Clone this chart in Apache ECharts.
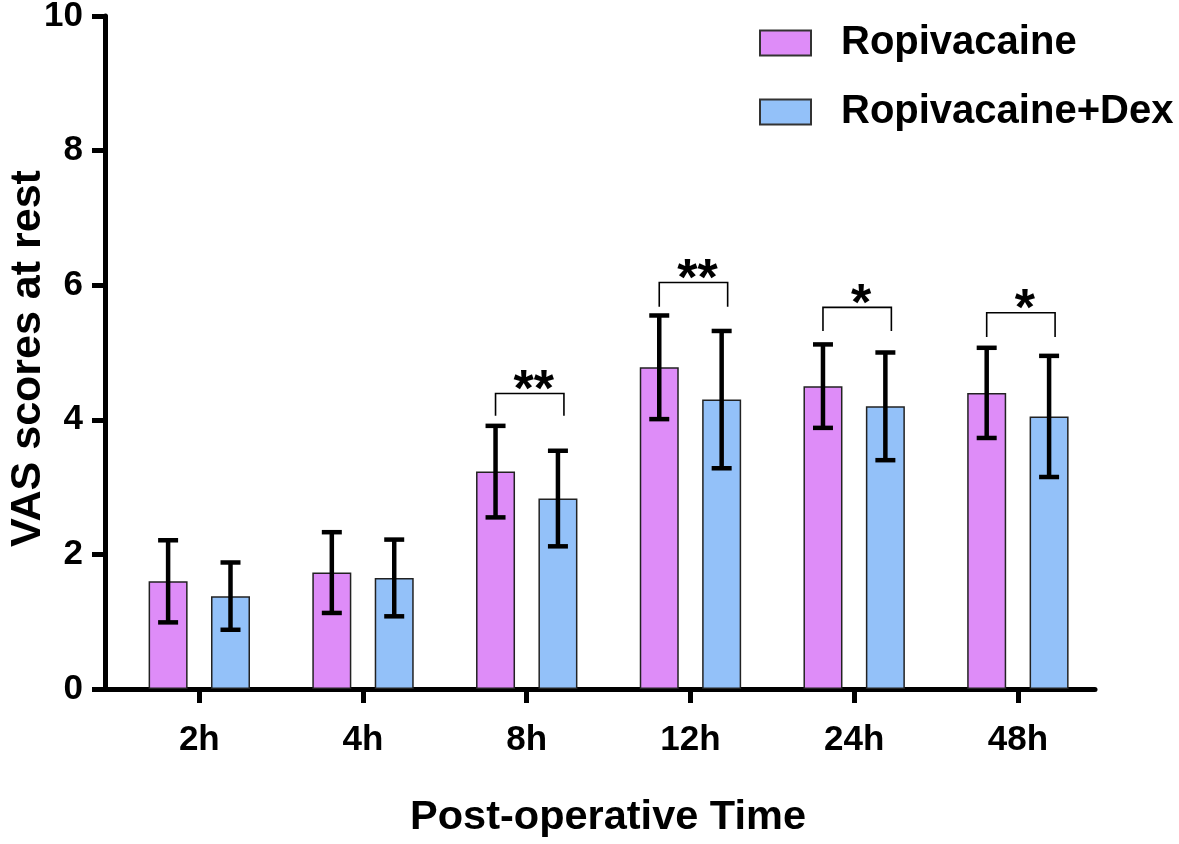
<!DOCTYPE html>
<html>
<head>
<meta charset="utf-8">
<script src="https://cdn.jsdelivr.net/npm/echarts@6/dist/echarts.min.js"></script>
<style>
html,body{margin:0;padding:0;background:#fff;}
#chart{width:1179px;height:844px;}
</style>
</head>
<body>
<div id="chart"></div>
<script>
// ---- data ----
const categories = ['2h', '4h', '8h', '12h', '24h', '48h'];
const seriesNames = ['Ropivacaine', 'Ropivacaine+Dex'];
const ropiMean = [1.60, 1.73, 3.23, 4.78, 4.50, 4.40];
const ropiSD   = [0.61, 0.60, 0.68, 0.77, 0.62, 0.67];
const dexMean  = [1.38, 1.65, 2.83, 4.30, 4.20, 4.05];
const dexSD    = [0.50, 0.57, 0.71, 1.02, 0.80, 0.90];
const sigIndex = [2, 3, 4, 5];
const sigLabels = ['**', '**', '*', '*'];
const sigTop = [4.39, 6.04, 5.67, 5.59];
const sigLeg = [4.06, 5.68, 5.32, 5.23];

// ---- style ----
const FONT = 'Liberation Sans, Arial, sans-serif';
const colors = ['#DE8CF8', '#93C1F9'];
const BAR_W = 39;
const GAP_RATIO = 0.6;
const HALF = (BAR_W + BAR_W * GAP_RATIO) / 2;

const chart = echarts.init(document.getElementById('chart'), null, {renderer: 'canvas'});

function errData(means, sds, s) {
  return means.map((m, i) => [i, m, sds[i], s]);
}

const errSeries = {
  type: 'custom',
  name: 'err',
  z: 5,
  silent: true,
  encode: {x: 0, y: 1},
  renderItem: function (params, api) {
    const i = api.value(0), m = api.value(1), sd = api.value(2), s = api.value(3);
    const dx = s === 0 ? -HALF : HALF;
    const top = api.coord([i, m + sd]);
    const bot = api.coord([i, m - sd]);
    const x = top[0] + dx;
    const cap = 10;
    const st = {stroke: '#000', lineWidth: 4.5};
    return {
      type: 'group',
      children: [
        {type: 'line', shape: {x1: x, y1: top[1], x2: x, y2: bot[1]}, style: st},
        {type: 'line', shape: {x1: x - cap, y1: top[1], x2: x + cap, y2: top[1]}, style: st},
        {type: 'line', shape: {x1: x - cap, y1: bot[1], x2: x + cap, y2: bot[1]}, style: st}
      ]
    };
  }
};

const option = {
  animation: false,
  backgroundColor: '#fff',
  textStyle: {fontFamily: FONT},
  grid: {left: 105, right: 84, top: 16, bottom: 155, containLabel: false, outerBoundsMode: 'none'},
  legend: {
    left: 754, top: 18, orient: 'vertical',
    itemWidth: 51, itemHeight: 25, itemGap: 29,
    icon: 'rect',
    data: seriesNames,
    textStyle: {fontFamily: FONT, fontWeight: 'bold', fontSize: 40, color: '#000', lineHeight: 40, padding: [0, 0, 0, 25]},
    itemStyle: {borderColor: '#333', borderWidth: 2}
  },
  xAxis: {
    type: 'value',
    min: -0.576, max: 5.471,
    name: 'Post-operative Time',
    nameLocation: 'middle',
    nameGap: 108,
    nameMoveOverlap: false,
    nameTextStyle: {fontFamily: FONT, fontWeight: 'bold', fontSize: 41.5, color: '#000', padding: [0, 0, 0, 16]},
    axisLine: {show: true, onZero: false, lineStyle: {color: '#000', width: 5}},
    axisTick: {show: true, length: 14, lineStyle: {color: '#000', width: 5}, customValues: [0, 1, 2, 3, 4, 5]},
    axisLabel: {
      customValues: [0, 1, 2, 3, 4, 5],
      formatter: v => categories[Math.round(v)],
      fontFamily: FONT, fontWeight: 'bold', fontSize: 35, color: '#000', margin: 34
    },
    splitLine: {show: false}
  },
  yAxis: {
    type: 'value',
    min: 0, max: 10, interval: 2,
    name: 'VAS scores at rest',
    nameLocation: 'middle',
    nameGap: 55,
    nameMoveOverlap: false,
    nameTextStyle: {fontFamily: FONT, fontWeight: 'bold', fontSize: 43, color: '#000', padding: [0, 12, 0, 0]},
    axisLine: {show: true, onZero: false, lineStyle: {color: '#000', width: 5}},
    axisTick: {show: true, length: 13, lineStyle: {color: '#000', width: 5}},
    axisLabel: {fontFamily: FONT, fontWeight: 'bold', fontSize: 35, color: '#000', margin: 22},
    splitLine: {show: false}
  },
  series: [
    {
      name: seriesNames[0], type: 'bar', barWidth: BAR_W, barGap: (GAP_RATIO * 100) + '%',
      itemStyle: {color: colors[0], borderColor: '#222', borderWidth: 1.5},
      data: ropiMean.map((v, i) => [i, v]), z: 2
    },
    {
      name: seriesNames[1], type: 'bar', barWidth: BAR_W, barGap: (GAP_RATIO * 100) + '%',
      itemStyle: {color: colors[1], borderColor: '#222', borderWidth: 1.5},
      data: dexMean.map((v, i) => [i, v]), z: 2
    },
    Object.assign({}, errSeries, {data: errData(ropiMean, ropiSD, 0)}),
    Object.assign({}, errSeries, {name: 'err2', data: errData(dexMean, dexSD, 1)}),
    {
      type: 'custom',
      name: 'sig',
      silent: true,
      z: 6,
      encode: {x: 0, y: 1},
      data: sigIndex.map((c, k) => [c, sigTop[k], sigLeg[k]]),
      renderItem: function (params, api) {
        const i = api.value(0), t = api.value(1), l = api.value(2);
        const pt = api.coord([i, t]);
        const pl = api.coord([i, l]);
        const xL = pt[0] - HALF, xR = pt[0] + HALF + 6;
        return {
          type: 'group',
          children: [
            {type: 'polyline', shape: {points: [[xL, pl[1]], [xL, pt[1]], [xR, pt[1]], [xR, pl[1]]]},
             style: {stroke: '#000', lineWidth: 1.6, fill: null}},
            {type: 'text', style: {text: sigLabels[params.dataIndex], x: (xL + xR) / 2 + 4, y: pt[1] - 2,
             align: 'center', verticalAlign: 'middle', font: 'bold 52px ' + FONT, fill: '#000'}}
          ]
        };
      }
    }
  ]
};
chart.setOption(option);
</script>
</body>
</html>
